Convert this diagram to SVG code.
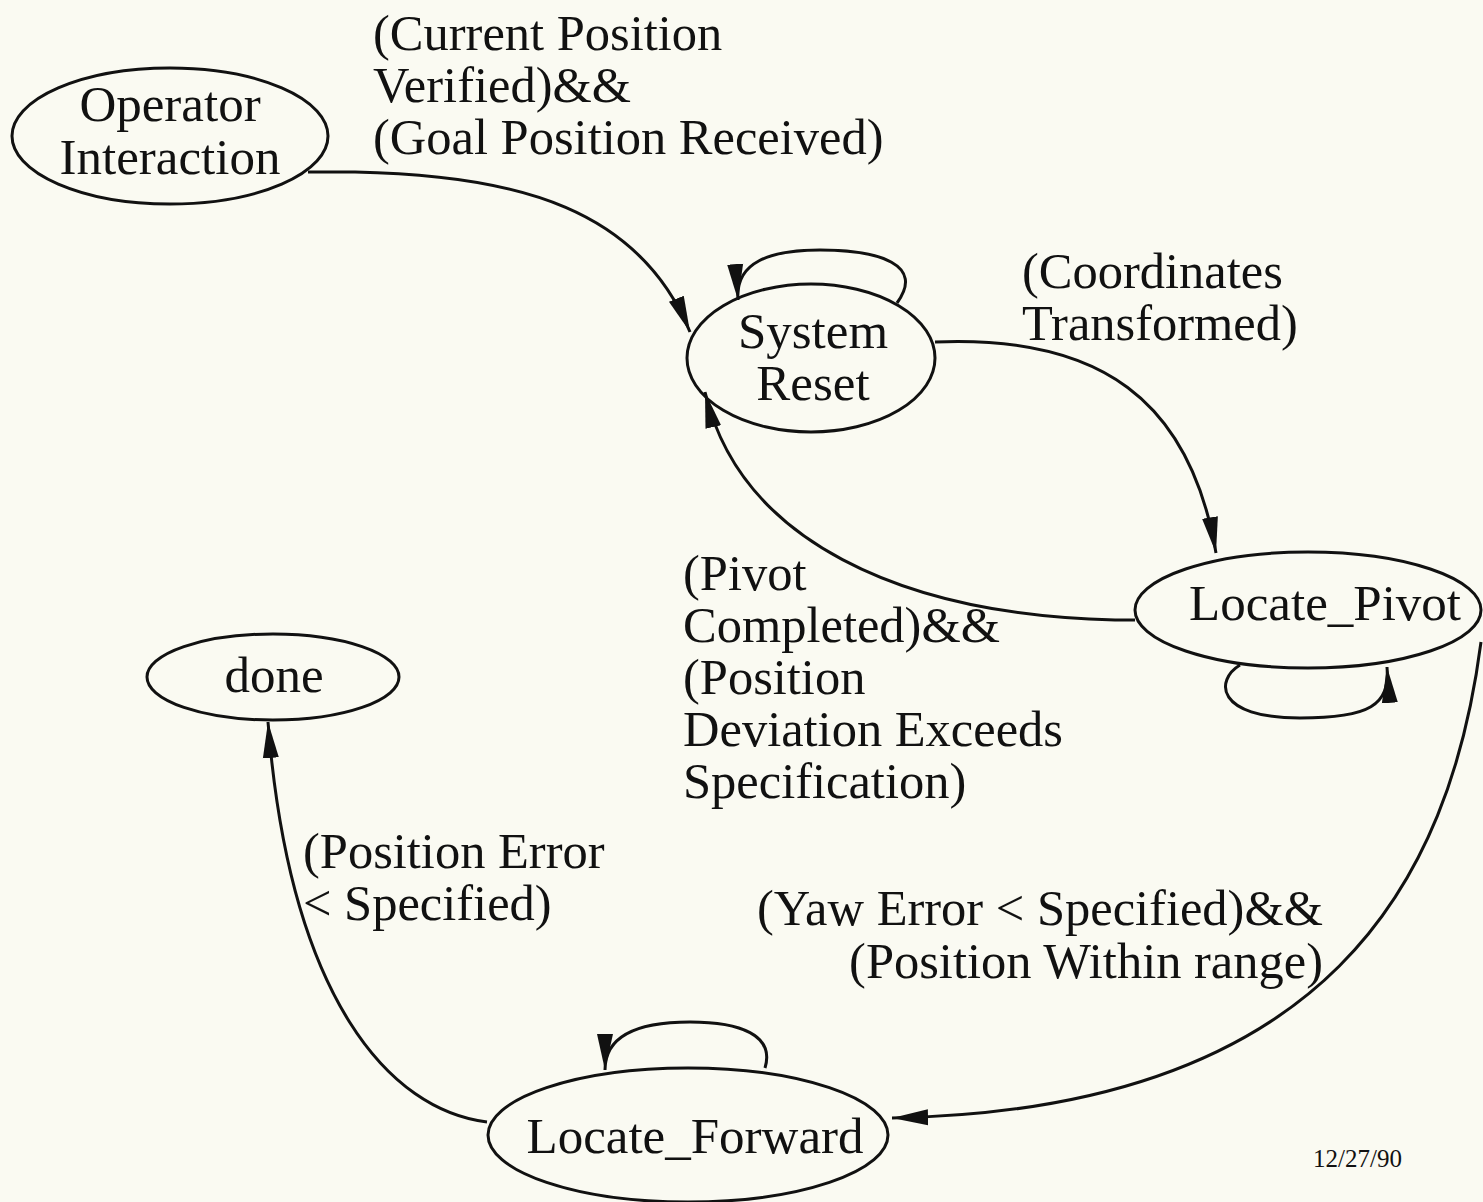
<svg xmlns="http://www.w3.org/2000/svg" width="1483" height="1202" viewBox="0 0 1483 1202">
  <style>
    .node { fill: none; stroke: #111; stroke-width: 3; }
    .edge { fill: none; stroke: #111; stroke-width: 3; }
    text { font-family: "Liberation Serif", "Times New Roman", serif; fill: #111; }
    .nl { font-size: 51px; text-anchor: middle; }
    .lbl { font-size: 50.5px; }
    .date { font-size: 25px; }
  </style>
  <defs>
    <marker id="arrow" markerUnits="userSpaceOnUse" markerWidth="38" markerHeight="18" refX="36" refY="9" orient="auto">
      <path d="M0,1 L36,9 L0,17 Z" fill="#111"/>
    </marker>
  </defs>
  <rect width="1483" height="1202" fill="#fafaf2"/>

  <!-- transitions -->
  <g id="connectors">
    <path class="edge" d="M308,172 L355,172 C520,175 640,210 690,332" marker-end="url(#arrow)"/>
    <path class="edge" d="M897,303 C925,265 880,250 820,250 C770,250 735,262 738,300" marker-end="url(#arrow)"/>
    <path class="edge" d="M935,342 C1100,335 1190,400 1216,553" marker-end="url(#arrow)"/>
    <path class="edge" d="M1135,620 L1115,620 C900,615 740,540 705,392" marker-end="url(#arrow)"/>
    <path class="edge" d="M1240,665 C1215,680 1215,718 1300,718 C1370,718 1390,705 1387,667" marker-end="url(#arrow)"/>
    <path class="edge" d="M1481,642 C1450,880 1330,1110 892,1118" marker-end="url(#arrow)"/>
    <path class="edge" d="M765,1068 C775,1035 740,1022 690,1022 C640,1022 605,1035 605,1070" marker-end="url(#arrow)"/>
    <path class="edge" d="M487,1122 C390,1110 290,1000 268,722" marker-end="url(#arrow)"/>
  </g>

  <!-- states -->
  <g id="operator-interaction">
    <ellipse class="node" cx="170" cy="136" rx="158" ry="68"/>
    <text class="nl" x="170" y="121">Operator</text>
    <text class="nl" x="170" y="174">Interaction</text>
  </g>
  <g id="system-reset">
    <ellipse class="node" cx="811" cy="358" rx="124" ry="74"/>
    <text class="nl" x="813" y="348">System</text>
    <text class="nl" x="813" y="400">Reset</text>
  </g>
  <g id="locate-pivot">
    <ellipse class="node" cx="1308" cy="610" rx="173" ry="58"/>
    <text class="nl" x="1325" y="620">Locate_Pivot</text>
  </g>
  <g id="done">
    <ellipse class="node" cx="273" cy="677" rx="126" ry="43"/>
    <text class="nl" x="274" y="692">done</text>
  </g>
  <g id="locate-forward">
    <ellipse class="node" cx="688" cy="1135" rx="200" ry="67"/>
    <text class="nl" x="695" y="1153">Locate_Forward</text>
  </g>

  <!-- transition conditions -->
  <g id="labels">
    <text class="lbl" x="373" y="50">(Current Position</text>
    <text class="lbl" x="373" y="102">Verified)&amp;&amp;</text>
    <text class="lbl" x="373" y="154">(Goal Position Received)</text>

    <text class="lbl" x="1022" y="288">(Coordinates</text>
    <text class="lbl" x="1022" y="340">Transformed)</text>

    <text class="lbl" x="683" y="590">(Pivot</text>
    <text class="lbl" x="683" y="642">Completed)&amp;&amp;</text>
    <text class="lbl" x="683" y="694">(Position</text>
    <text class="lbl" x="683" y="746">Deviation Exceeds</text>
    <text class="lbl" x="683" y="798">Specification)</text>

    <text class="lbl" x="303" y="868">(Position Error</text>
    <text class="lbl" x="303" y="920">&lt; Specified)</text>

    <text class="lbl" x="1323" y="925" text-anchor="end">(Yaw Error &lt; Specified)&amp;&amp;</text>
    <text class="lbl" x="1323" y="978" text-anchor="end">(Position Within range)</text>
  </g>

  <text class="date" x="1313" y="1167">12/27/90</text>
</svg>
